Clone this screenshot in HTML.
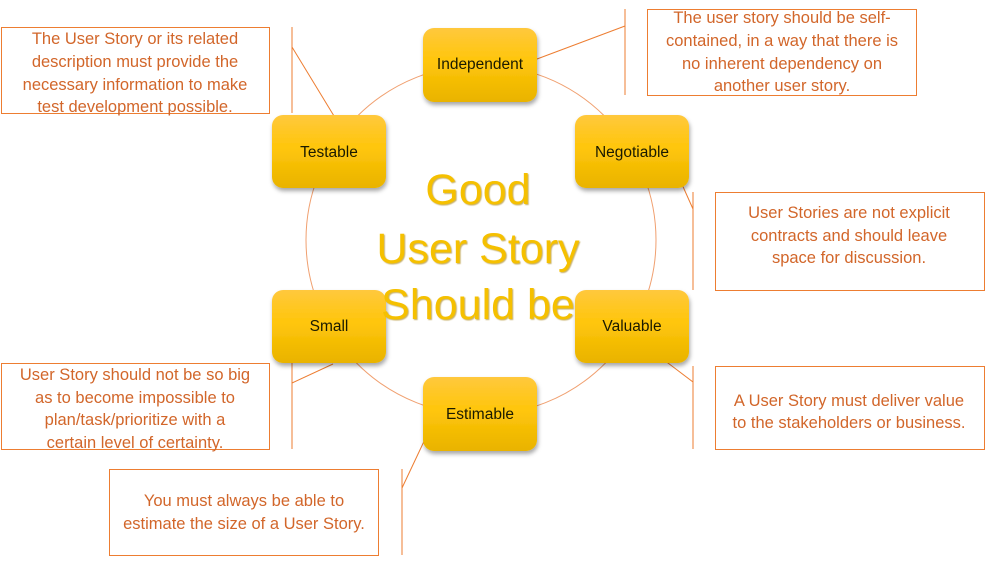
<!DOCTYPE html>
<html><head><meta charset="utf-8"><style>
html,body{margin:0;padding:0;background:#fff;}
svg{display:block;}
</style></head><body>
<svg width="985" height="561" viewBox="0 0 985 561" xmlns="http://www.w3.org/2000/svg" font-family="Liberation Sans, sans-serif">
<defs>
<linearGradient id="g" x1="0" y1="0" x2="0" y2="1">
<stop offset="0" stop-color="#ffc83d"/><stop offset="0.45" stop-color="#ffc60a"/><stop offset="1" stop-color="#e9b300"/>
</linearGradient>
<filter id="sh" x="-20%" y="-20%" width="140%" height="150%"><feDropShadow dx="1" dy="3" stdDeviation="2" flood-color="#000" flood-opacity="0.35"/></filter>
<filter id="ts"><feDropShadow dx="1" dy="1" stdDeviation="0.6" flood-color="#a07800" flood-opacity="0.6"/></filter>
</defs>
<circle cx="481" cy="240" r="175" fill="none" stroke="#f0a070" stroke-width="1"/>
<g stroke="#ed7d31" stroke-width="1" fill="none">
<line x1="292" y1="27" x2="292" y2="113"/><line x1="292" y1="47" x2="334" y2="116"/>
<line x1="625" y1="9" x2="625" y2="95"/><line x1="625" y1="26" x2="537" y2="59"/>
<line x1="693" y1="192" x2="693" y2="290"/><line x1="693" y1="209" x2="672" y2="162"/>
<line x1="693" y1="366" x2="693" y2="449"/><line x1="693" y1="382" x2="664" y2="360"/>
<line x1="292" y1="363" x2="292" y2="449"/><line x1="292" y1="383" x2="333" y2="364"/>
<line x1="402" y1="469" x2="402" y2="555"/><line x1="402" y1="488" x2="427" y2="435"/>
<rect x="1.5" y="27.5" width="268" height="86"/>
<rect x="647.5" y="9.5" width="269" height="86"/>
<rect x="715.5" y="192.5" width="269" height="98"/>
<rect x="715.5" y="366.5" width="269" height="83"/>
<rect x="1.5" y="363.5" width="268" height="86"/>
<rect x="109.5" y="469.5" width="269" height="86"/>
</g>
<g filter="url(#sh)" fill="url(#g)">
<rect x="423" y="28" width="114" height="74" rx="11"/>
<rect x="272" y="115" width="114" height="73" rx="11"/>
<rect x="575" y="115" width="114" height="73" rx="11"/>
<rect x="272" y="290" width="114" height="73" rx="11"/>
<rect x="575" y="290" width="114" height="73" rx="11"/>
<rect x="423" y="377" width="114" height="74" rx="11"/>
</g>
<g font-size="15.5" fill="#1a1a00" text-anchor="middle">
<text x="480" y="69">Independent</text>
<text x="329" y="157">Testable</text>
<text x="632" y="157">Negotiable</text>
<text x="329" y="331">Small</text>
<text x="632" y="331">Valuable</text>
<text x="480" y="419">Estimable</text>
</g>
<g font-size="43" fill="#f5c000" text-anchor="middle" filter="url(#ts)">
<text x="478" y="204">Good</text>
<text x="478" y="263">User Story</text>
<text x="478" y="319">Should be</text>
</g>
<g font-size="16.5" fill="#d2662a" text-anchor="middle">
<text x="135" y="44">The User Story or its related</text>
<text x="135" y="67">description must provide the</text>
<text x="135" y="90">necessary information to make</text>
<text x="135" y="112">test development possible.</text>
<text x="782" y="23">The user story should be self-</text>
<text x="782" y="46">contained, in a way that there is</text>
<text x="782" y="69">no inherent dependency on</text>
<text x="782" y="91">another user story.</text>
<text x="849" y="218">User Stories are not explicit</text>
<text x="849" y="241">contracts and should leave</text>
<text x="849" y="263">space for discussion.</text>
<text x="849" y="406">A User Story must deliver value</text>
<text x="849" y="428">to the stakeholders or business.</text>
<text x="135" y="380">User Story should not be so big</text>
<text x="135" y="403">as to become impossible to</text>
<text x="135" y="425">plan/task/prioritize with a</text>
<text x="135" y="448">certain level of certainty.</text>
<text x="244" y="506">You must always be able to</text>
<text x="244" y="529">estimate the size of a User Story.</text>
</g>
</svg>
</body></html>
